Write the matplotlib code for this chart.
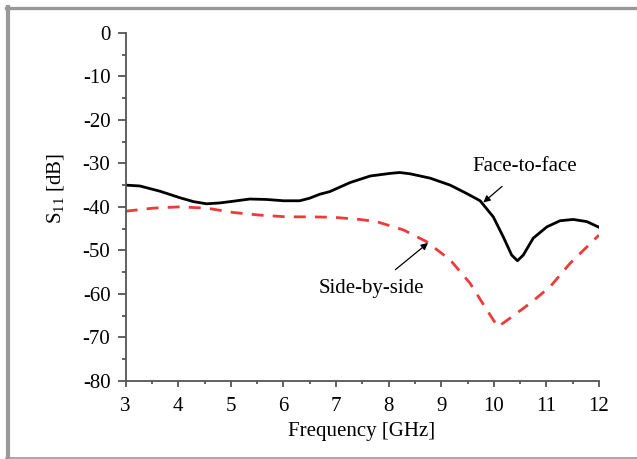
import matplotlib
matplotlib.use("Agg")
import matplotlib.pyplot as plt
from matplotlib.lines import Line2D
from matplotlib.ticker import MultipleLocator

plt.rcParams["font.family"] = ["Liberation Serif", "DejaVu Serif"]
plt.rcParams["mathtext.fontset"] = "custom"
plt.rcParams["mathtext.rm"] = "Liberation Serif"
plt.rcParams["mathtext.it"] = "Liberation Serif:italic"
plt.rcParams["axes.unicode_minus"] = False

# Face-to-face (solid black)
f_face = [3.0, 3.27, 3.65, 4.03, 4.29, 4.54, 4.79, 5.05, 5.36, 5.68, 6.0, 6.31, 6.50, 6.69,
          6.88, 7.27, 7.65, 8.03, 8.21, 8.41, 8.79, 9.17, 9.48, 9.74, 9.99, 10.18, 10.34,
          10.45, 10.56, 10.75, 11.01, 11.26, 11.51, 11.77, 12.0]
s_face = [-35.0, -35.2, -36.4, -37.9, -38.8, -39.3, -39.1, -38.7, -38.2, -38.3, -38.6, -38.6, -38.0, -37.1,
          -36.5, -34.4, -32.9, -32.3, -32.1, -32.4, -33.4, -35.0, -36.9, -38.6, -42.3, -46.9, -51.1,
          -52.4, -51.1, -47.2, -44.6, -43.2, -42.9, -43.4, -44.7]

# Side-by-side (red dashed)
f_side = [3.0, 3.52, 4.03, 4.54, 5.05, 5.55, 6.06, 6.5, 6.95, 7.45, 7.77, 8.28, 8.72, 9.17,
          9.55, 9.83, 9.99, 10.08, 10.31, 10.69, 11.07, 11.45, 12.0]
s_side = [-41.0, -40.3, -40.0, -40.3, -41.3, -41.9, -42.3, -42.3, -42.4, -42.9, -43.4, -45.3, -48.0, -52.2,
          -57.6, -63.0, -66.0, -67.6, -65.6, -62.2, -58.4, -53.0, -46.5]

fig = plt.figure(figsize=(6.37, 4.59), dpi=100)
ax = fig.add_axes([0.1973, 0.1706, 0.7430, 0.7575])

ax.plot(f_face, s_face, color="black", lw=2.0, solid_joinstyle="round")
ax.plot(f_side, s_side, color="#ee3a3a", lw=2.0, dashes=(4.3, 3.3))

ax.set_xlim(3, 12)
ax.set_ylim(-80, 0)
ax.xaxis.set_major_locator(MultipleLocator(1))
ax.xaxis.set_minor_locator(MultipleLocator(0.5))
ax.yaxis.set_major_locator(MultipleLocator(10))
ax.yaxis.set_minor_locator(MultipleLocator(5))

for s in ["top", "right"]:
    ax.spines[s].set_visible(False)
for s in ["left", "bottom"]:
    ax.spines[s].set_color("#555555")
    ax.spines[s].set_linewidth(1.3)

ax.tick_params(axis="y", which="major", direction="out", length=6, width=1.3,
               color="#555555", labelsize=15, pad=5)
ax.tick_params(axis="y", which="minor", direction="out", length=3, width=1.3, color="#555555")
ax.tick_params(axis="x", which="major", direction="out", length=4.5, width=1.3,
               color="#555555", labelsize=15, pad=7)
ax.tick_params(axis="x", which="minor", direction="out", length=2.2, width=1.3, color="#555555")

ax.set_xlabel("Frequency [GHz]", fontsize=15, va="center")
ax.xaxis.set_label_coords(0.499, -0.147)
ax.set_ylabel(r"S$_{\mathrm{11}}$ [dB]", fontsize=15, va="center")
ax.yaxis.set_label_coords(-0.149, 0.553)

ax.annotate("Face-to-face", xy=(9.80, -39.0), xytext=(10.59, -30.8),
            fontsize=15, ha="center", va="center",
            arrowprops=dict(arrowstyle="-|>", color="black", lw=0.9,
                            mutation_scale=10, shrinkA=8, shrinkB=0))
ax.annotate("Side-by-side", xy=(8.75, -48.3), xytext=(7.68, -58.9),
            fontsize=15, ha="center", va="center",
            arrowprops=dict(arrowstyle="-|>", color="black", lw=0.9,
                            mutation_scale=10, shrinkA=8, shrinkB=0))

# gray frame around the picture
W, H = 637, 459
fig.add_artist(Line2D([8 / W, 8 / W], [1 - 7 / H, 1 - 458 / H], color="#999999", lw=3,
                      transform=fig.transFigure))
fig.add_artist(Line2D([6 / W, 1.0], [1 - 7.5 / H, 1 - 7.5 / H], color="#999999", lw=2.4,
                      transform=fig.transFigure))
fig.add_artist(Line2D([6 / W, 1.0], [1 - 457.5 / H, 1 - 457.5 / H], color="#999999", lw=1.2,
                      transform=fig.transFigure))

fig.savefig("out.png", dpi=100)
